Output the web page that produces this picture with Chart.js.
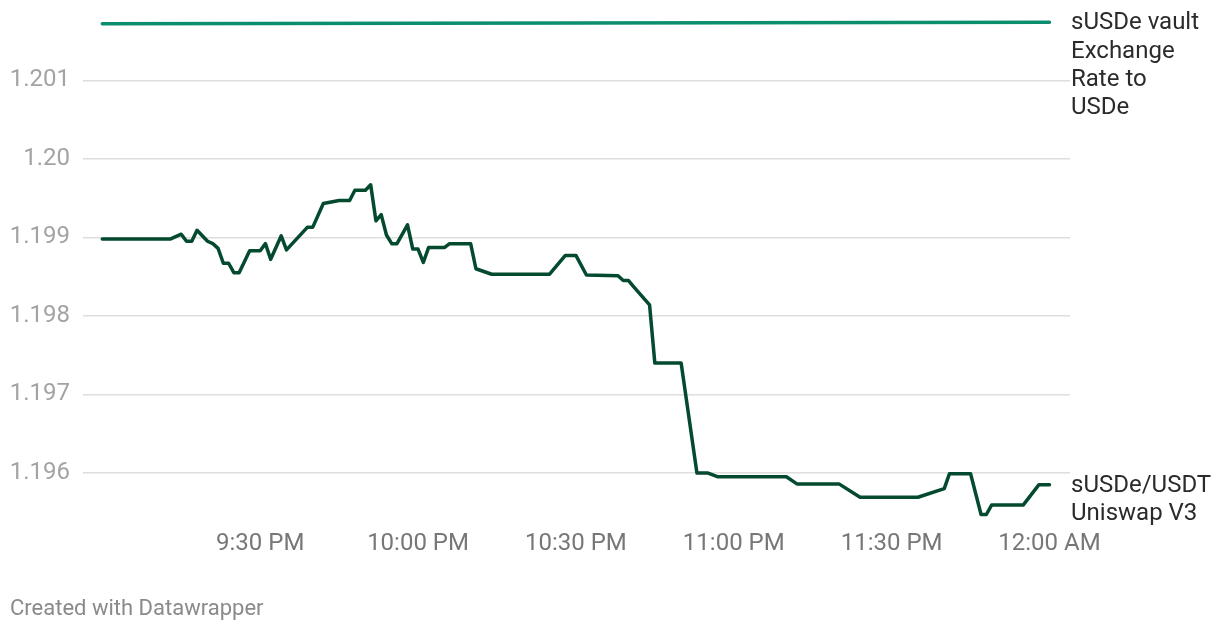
<!DOCTYPE html>
<html>
<head>
<meta charset="utf-8">
<script src="https://cdn.jsdelivr.net/npm/chart.js@4/dist/chart.umd.min.js"></script>
<style>
    html, body { margin: 0; padding: 0; background: #ffffff; }
    #chart { display: block; }
</style>
</head>
<body>
<canvas id="chart" width="1220" height="632"></canvas>
<script>
// minutes after 9:00 PM
const vaultMinutes = [0, 90, 180];
const vaultRate = [1.20172, 1.20173, 1.20174];

const uniMinutes = [0, 13, 15, 16, 17, 18, 20, 21, 22, 23, 24, 25, 26, 28, 30, 31, 32, 34, 35,
    39, 40, 42, 45, 47, 48, 50, 51, 52, 53, 54, 55, 56, 58, 59, 60, 61, 62, 65, 66, 70, 71,
    74, 85, 88, 90, 92, 98, 99, 100, 101, 104, 105, 110, 113, 115, 117, 130, 132, 140, 144,
    155, 160, 161, 165, 167, 168, 169, 175, 178, 180];
const uniRate = [1.19898, 1.19898, 1.19904, 1.19895, 1.19895, 1.19909, 1.19895, 1.19892, 1.19886,
    1.19867, 1.19867, 1.19855, 1.19855, 1.19883, 1.19883, 1.19892, 1.19872, 1.19902, 1.19884,
    1.19913, 1.19913, 1.19943, 1.19947, 1.19947, 1.19960, 1.19960, 1.19967, 1.19921, 1.19929,
    1.19903, 1.19892, 1.19892, 1.19916, 1.19885, 1.19885, 1.19868, 1.19887, 1.19887, 1.19892,
    1.19892, 1.19860, 1.19853, 1.19853, 1.19877, 1.19877, 1.19852, 1.19851, 1.19845, 1.19845,
    1.19837, 1.19814, 1.19740, 1.19740, 1.19600, 1.19600, 1.19595, 1.19595, 1.19586, 1.19586,
    1.19569, 1.19569, 1.19580, 1.19599, 1.19599, 1.19547, 1.19547, 1.19559, 1.19559, 1.19585,
    1.19585];

const seriesLabels = [
    ['sUSDe vault', 'Exchange', 'Rate to', 'USDe'],
    ['sUSDe/USDT', 'Uniswap V3']
];

const xTickValues = [30, 60, 90, 120, 150, 180];
const xTickLabels = ['9:30 PM', '10:00 PM', '10:30 PM', '11:00 PM', '11:30 PM', '12:00 AM'];
const yTickValues = [1.196, 1.197, 1.198, 1.199, 1.2, 1.201];
const yTickLabels = ['1.196', '1.197', '1.198', '1.199', '1.20', '1.201'];

const toPoints = (xs, ys) => xs.map((x, i) => ({ x: x, y: ys[i] }));

// labels at the end of each line + footer
const endLabels = {
    id: 'endLabels',
    afterDatasetsDraw(chart) {
        const ctx = chart.ctx;
        ctx.save();
        ctx.font = '24px Roboto';
        ctx.fillStyle = '#2b2b2b';
        ctx.textAlign = 'left';
        ctx.textBaseline = 'middle';
        chart.data.datasets.forEach((ds, i) => {
            const meta = chart.getDatasetMeta(i);
            const last = meta.data[meta.data.length - 1];
            const lines = seriesLabels[i];
            lines.forEach((line, j) => {
                ctx.fillText(line, chart.chartArea.right + 1, last.y + 1 + j * 28.3);
            });
        });
        ctx.font = '22px Roboto';
        ctx.fillStyle = '#8a8a8a';
        ctx.fillText('Created with Datawrapper', 10, 609);
        ctx.restore();
    }
};

new Chart(document.getElementById('chart').getContext('2d'), {
    type: 'line',
    data: {
        datasets: [{
            data: toPoints(vaultMinutes, vaultRate),
            borderColor: '#0b8e6e',
            borderWidth: 3.5,
            clip: false
        }, {
            data: toPoints(uniMinutes, uniRate),
            borderColor: '#044a2f',
            borderWidth: 3.5,
            clip: false
        }]
    },
    options: {
        responsive: false,
        devicePixelRatio: 1,
        animation: false,
        elements: {
            point: { radius: 0 },
            line: { tension: 0, borderJoinStyle: 'round', borderCapStyle: 'round' }
        },
        layout: { padding: { left: 0, right: 150, top: 17.5, bottom: 0 } },
        plugins: {
            legend: { display: false },
            tooltip: { enabled: false }
        },
        scales: {
            x: {
                type: 'linear',
                min: -3.67,
                max: 183.9,
                afterBuildTicks: s => { s.ticks = xTickValues.map(v => ({ value: v })); },
                afterFit: s => { s.height = 112; s.paddingLeft = 0; s.paddingRight = 0; },
                grid: { display: false, drawTicks: false },
                border: { display: false },
                ticks: {
                    padding: 10,
                    maxRotation: 0,
                    autoSkip: false,
                    color: '#777777',
                    font: { family: 'Roboto', size: 24 },
                    callback: v => xTickLabels[xTickValues.indexOf(v)]
                }
            },
            y: {
                min: 1.1954,
                max: 1.2018,
                afterBuildTicks: s => { s.ticks = yTickValues.map(v => ({ value: v })); },
                afterFit: s => { s.width = 83; s.paddingTop = 0; s.paddingBottom = 0; },
                grid: { color: '#dedede', lineWidth: 1.5, drawTicks: false },
                border: { display: false },
                ticks: {
                    padding: 13,
                    color: '#a3a3a3',
                    font: { family: 'Roboto', size: 24 },
                    callback: v => yTickLabels[yTickValues.indexOf(v)]
                }
            }
        }
    },
    plugins: [endLabels]
});
</script>
</body>
</html>
